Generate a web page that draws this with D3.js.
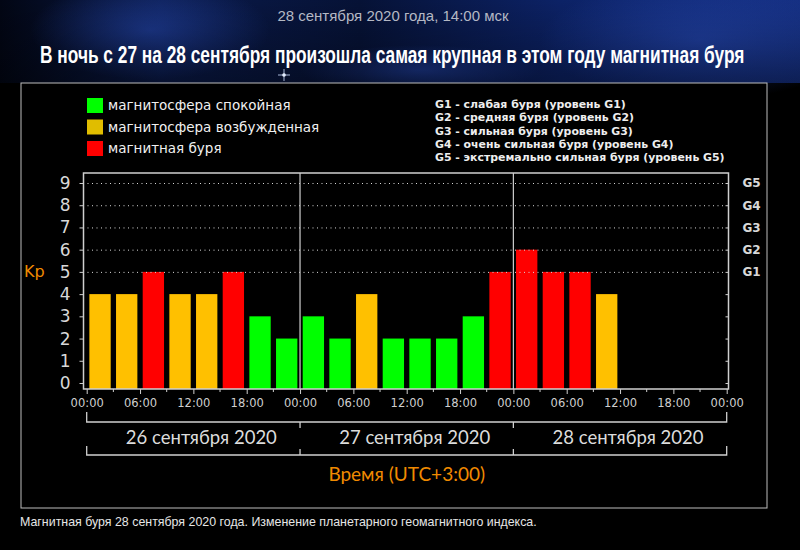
<!DOCTYPE html>
<html><head><meta charset="utf-8">
<script src="https://cdn.jsdelivr.net/npm/d3@7"></script>
<style>html,body{margin:0;padding:0;background:#000;}svg{display:block;}</style>
</head><body>
<script>
// ---- data ----
const days = ["26 сентября 2020", "27 сентября 2020", "28 сентября 2020"];
const kp26 = [4, 4, 5, 4, 4, 5, 3, 2];
const kp27 = [3, 2, 4, 2, 2, 2, 3, 5];
const kp28 = [6, 5, 5, 4];
const hourTicks = ["00:00", "06:00", "12:00", "18:00"];
const yTicks = [0, 1, 2, 3, 4, 5, 6, 7, 8, 9];
const gLevels = ["G1", "G2", "G3", "G4", "G5"];
const gLevelKp = [5, 6, 7, 8, 9];
const legendLabels = ["магнитосфера спокойная", "магнитосфера возбужденная", "магнитная буря"];
const gLegend = [
  "G1 - слабая буря (уровень G1)",
  "G2 - средняя буря (уровень G2)",
  "G3 - сильная буря (уровень G3)",
  "G4 - очень сильная буря (уровень G4)",
  "G5 - экстремально сильная буря (уровень G5)"
];
const subtitle = "28 сентября 2020 года, 14:00 мск";
const title = "В ночь с 27 на 28 сентября произошла самая крупная в этом году магнитная буря";
const caption = "Магнитная буря 28 сентября 2020 года. Изменение планетарного геомагнитного индекса.";
const xTitle = "Время (UTC+3:00)";
const yTitle = "Kp";

const series = [kp26, kp27, kp28];
const bars = [];
series.forEach((arr, d) => arr.forEach((v, i) => bars.push({h: d * 24 + i * 3, v})));

const W = 800, H = 550;
const svg = d3.select("body").append("svg").attr("width", W).attr("height", H);
const defs = svg.append("defs");

// background sky
svg.append("rect").attr("width", W).attr("height", H).attr("fill", "#000");
const g1 = defs.append("linearGradient").attr("id", "sky").attr("x1", 0).attr("y1", 0).attr("x2", 1).attr("y2", 0);
[["0%", "#020614"], ["20%", "#0a1a4a"], ["45%", "#061236"], ["70%", "#0c2266"], ["100%", "#142e80"]]
  .forEach(s => g1.append("stop").attr("offset", s[0]).attr("stop-color", s[1]));
svg.append("rect").attr("width", W).attr("height", 83).attr("fill", "url(#sky)");
const rg = defs.append("radialGradient").attr("id", "glow");
rg.append("stop").attr("offset", "0%").attr("stop-color", "#2a4fc0").attr("stop-opacity", 0.55);
rg.append("stop").attr("offset", "100%").attr("stop-color", "#2a4fc0").attr("stop-opacity", 0);
[[150, 30, 120, 50], [700, 40, 160, 60], [420, 70, 120, 25]].forEach(c =>
  svg.append("ellipse").attr("cx", c[0]).attr("cy", c[1]).attr("rx", c[2]).attr("ry", c[3]).attr("fill", "url(#glow)"));
const fade = defs.append("linearGradient").attr("id", "fade").attr("x1", 0).attr("y1", 0).attr("x2", 0).attr("y2", 1);
fade.append("stop").attr("offset", "0%").attr("stop-color", "#000").attr("stop-opacity", 0);
fade.append("stop").attr("offset", "100%").attr("stop-color", "#000").attr("stop-opacity", 0.35);
svg.append("rect").attr("width", W).attr("height", 83).attr("fill", "url(#fade)");
// star
svg.append("circle").attr("cx", 284).attr("cy", 75).attr("r", 1.8).attr("fill", "#fff");
svg.append("path").attr("d", "M284,69 L284,81 M278,75 L290,75").attr("stroke", "#cfe0ff").attr("stroke-width", 0.8);

// header texts
svg.append("text").attr("x", 393).attr("y", 21).attr("text-anchor", "middle")
  .attr("font-family", "Liberation Sans Narrow, Liberation Sans, sans-serif").attr("font-size", 15)
  .attr("fill", "#b4b8c4").text(subtitle);
const titleEl = svg.append("text").attr("x", 0).attr("y", 0)
  .attr("font-family", "Liberation Sans Narrow, Liberation Sans, sans-serif").attr("font-weight", "bold")
  .attr("font-size", 24).attr("fill", "#fff").text(title);
const natural = titleEl.node().getComputedTextLength();
titleEl.attr("transform", `translate(40,63) scale(${705 / natural},1)`);

// outer frame
svg.append("rect").attr("x", 21).attr("y", 83).attr("width", 746).attr("height", 425)
  .attr("fill", "#000").attr("stroke", "#bdbdbd").attr("stroke-width", 1);

// caption
svg.append("text").attr("x", 20).attr("y", 526)
  .attr("font-family", "Liberation Sans Narrow, Liberation Sans, sans-serif").attr("font-size", 12.4)
  .attr("fill", "#e6e6e6").text(caption);

// scales
const x = d3.scaleLinear().domain([0, 72]).range([86.7, 726.7]);
const y = d3.scaleLinear().domain([0, 9]).range([383, 183]);
const pL = 83.5, pR = 728.5, pT = y(9.45), pB = y(-0.27);
const color = v => v >= 5 ? "#ff0000" : v >= 4 ? "#ffc000" : "#00ff00";
const axisColor = "#cfcfcf";

// bars
svg.append("g").selectAll("rect").data(bars).join("rect")
  .attr("x", d => x(d.h + 0.3)).attr("width", d => x(d.h + 2.7) - x(d.h + 0.3))
  .attr("y", d => y(d.v)).attr("height", d => pB - y(d.v))
  .attr("fill", d => color(d.v));

// dotted grid at G-levels
svg.append("g").selectAll("line").data(gLevelKp).join("line")
  .attr("x1", pL + 4).attr("x2", pR - 3).attr("y1", d => y(d) + 0.5).attr("y2", d => y(d) + 0.5)
  .attr("stroke", "#d8d8d8").attr("stroke-width", 1).attr("stroke-dasharray", "1,3.5");

// day separators
svg.append("g").selectAll("line").data([24, 48]).join("line")
  .attr("x1", d => x(d)).attr("x2", d => x(d)).attr("y1", pT).attr("y2", pB)
  .attr("stroke", axisColor).attr("stroke-width", 1.2);

// plot frame
svg.append("path").attr("d", `M${pL},${pT}H${pR}V${pB}H${pL}Z`)
  .attr("fill", "none").attr("stroke", axisColor).attr("stroke-width", 1.5);

// left axis
const yAxis = d3.axisLeft(y).tickValues(yTicks).tickSize(4).tickPadding(9).tickFormat(d3.format("d"));
const ya = svg.append("g").attr("transform", `translate(${pL},0)`).call(yAxis);
ya.select(".domain").remove();
ya.selectAll("line").attr("stroke", axisColor);
ya.selectAll("text").attr("font-family", "DejaVu Sans, sans-serif").attr("font-size", 17).attr("fill", "#d8d8d8");

// right axis (G levels)
const yR = d3.axisRight(y).tickValues(yTicks).tickSize(-3).tickPadding(14)
  .tickFormat(d => { const k = gLevelKp.indexOf(d); return k >= 0 ? gLevels[k] : ""; });
const yra = svg.append("g").attr("transform", `translate(${pR},0)`).call(yR);
yra.select(".domain").remove();
yra.selectAll("line").attr("stroke", axisColor);
yra.selectAll("text").attr("font-family", "DejaVu Sans, sans-serif").attr("font-weight", "bold")
  .attr("font-size", 12).attr("fill", "#d8d8d8");

// bottom axis
const hourVals = d3.range(0, 73, 6);
const xa = svg.append("g").attr("transform", `translate(0,${pB})`)
  .call(d3.axisBottom(x).tickValues(hourVals).tickSize(5).tickPadding(5)
    .tickFormat(d => hourTicks[(d % 24) / 6]));
xa.select(".domain").remove();
xa.selectAll("line").attr("stroke", axisColor);
xa.selectAll("text").attr("font-family", "DejaVu Sans, sans-serif").attr("font-size", 11.5).attr("fill", "#cfcfcf");
svg.append("g").selectAll("line").data(d3.range(3, 72, 6)).join("line")
  .attr("x1", d => x(d)).attr("x2", d => x(d)).attr("y1", pB).attr("y2", pB + 3)
  .attr("stroke", axisColor);

// day brackets
const br = svg.append("g").attr("stroke", "#cfcfcf").attr("fill", "none").attr("stroke-width", 1.3);
br.append("path").attr("d", `M${x(0)},412V422H${x(72)}V412`);
br.selectAll(".m1").data([24, 48]).join("path").attr("d", d => `M${x(d)},422V428`);
br.append("path").attr("d", `M${x(0)},446V455H${x(72)}V446`);
br.selectAll(".m2").data([24, 48]).join("path").attr("d", d => `M${x(d)},449V455`);

svg.append("g").selectAll("text").data(days).join("text")
  .attr("x", (d, i) => x(i * 24 + 12) + 8).attr("y", 444).attr("text-anchor", "middle")
  .attr("font-family", "Lato, Open Sans, sans-serif").attr("font-size", 18.5).attr("fill", "#dcdcdc")
  .text(d => d);

// axis titles
svg.append("text").attr("x", x(36)).attr("y", 481).attr("text-anchor", "middle")
  .attr("font-family", "Lato, Open Sans, sans-serif").attr("font-size", 19).attr("fill", "#f08a00").text(xTitle);
svg.append("text").attr("x", 24).attr("y", 277)
  .attr("font-family", "DejaVu Sans, sans-serif").attr("font-size", 16).attr("fill", "#f08a00").text(yTitle);

// legend (colour states)
const legColors = ["#00ff00", "#e0bd00", "#ff0000"];
const lg = svg.append("g").selectAll("g").data(legendLabels).join("g")
  .attr("transform", (d, i) => `translate(87,${98 + i * 21.5})`);
lg.append("rect").attr("width", 16).attr("height", 15).attr("fill", (d, i) => legColors[i]);
lg.append("text").attr("x", 21).attr("y", 12)
  .attr("font-family", "DejaVu Sans, sans-serif").attr("font-size", 13.5).attr("fill", "#f0f0f0").text(d => d);

// legend (G levels)
svg.append("g").selectAll("text").data(gLegend).join("text")
  .attr("x", 435).attr("y", (d, i) => 108 + i * 13.3)
  .attr("font-family", "DejaVu Sans, sans-serif").attr("font-weight", "bold").attr("font-size", 10.9)
  .attr("fill", "#eeeeee").text(d => d);
</script>
</body></html>
